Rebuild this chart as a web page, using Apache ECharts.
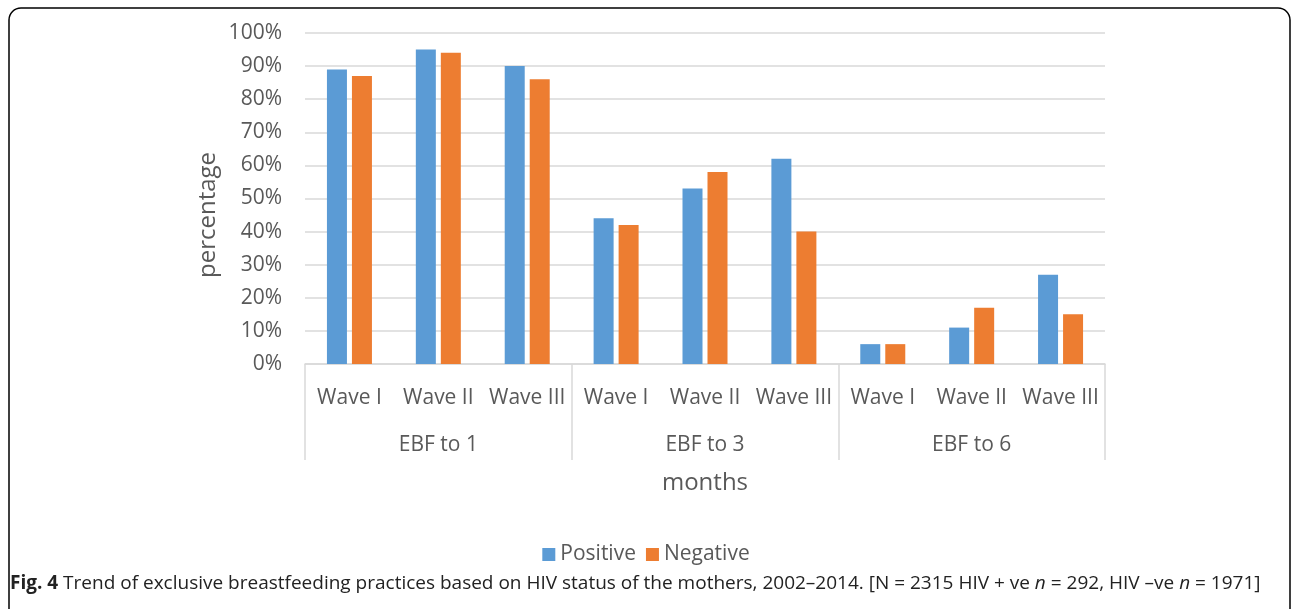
<!DOCTYPE html>
<html><head><meta charset="utf-8">
<script src="https://cdn.jsdelivr.net/npm/echarts@6/dist/echarts.min.js"></script>
<style>html,body{margin:0;padding:0;background:#fff}#c{width:1292px;height:609px}</style>
</head><body><div id="c"></div>
<script>
const waves = ['Wave I','Wave II','Wave III','Wave I','Wave II','Wave III','Wave I','Wave II','Wave III'];
const groups = ['EBF to 1','EBF to 3','EBF to 6'];
const positive = [89,95,90,44,53,62,6,11,27];
const negative = [87,94,86,42,58,40,6,17,15];
const yTicks = [0,10,20,30,40,50,60,70,80,90,100];

const FONT = '"Open Sans", sans-serif';
const GREY = '#595959';
const chart = echarts.init(document.getElementById('c'), null, {renderer:'canvas'});
chart.setOption({
  animation:false,
  textStyle:{fontFamily:FONT},
  grid:{left:305, right:187, top:33, bottom:245},
  legend:{
    data:['Positive','Negative'], top:539, left:'center',
    itemWidth:13, itemHeight:13, itemGap:10,
    icon:'rect',
    textStyle:{fontSize:21, color:GREY, fontFamily:FONT}
  },
  xAxis:[{
    type:'category', data:waves, position:'bottom',
    axisLine:{lineStyle:{color:'#d9d9d9', width:1.5}},
    axisTick:{show:false},
    axisLabel:{fontSize:21, color:GREY, margin:24, interval:0}
  },{
    type:'category', data:groups, position:'bottom',
    axisLine:{show:false},
    axisTick:{show:true, length:96, lineStyle:{color:'#d9d9d9', width:1.5}},
    axisLabel:{fontSize:21, color:GREY, margin:71},
    name:'months', nameLocation:'middle', nameGap:107,
    nameTextStyle:{fontSize:24, color:GREY, fontFamily:FONT}
  }],
  yAxis:{
    type:'value', min:0, max:100, interval:10,
    axisLabel:{fontSize:21, color:GREY, margin:23, formatter:v=> yTicks.includes(v)? v+'%' : ''},
    splitLine:{lineStyle:{color:'#d9d9d9', width:1.5}},
    axisLine:{show:false}, axisTick:{show:false}
  },
  series:[
    {name:'Positive', type:'bar', data:positive, barWidth:20, barGap:'25%',
     itemStyle:{color:'#5b9bd5'}},
    {name:'Negative', type:'bar', data:negative, barWidth:20, barGap:'25%',
     itemStyle:{color:'#ed7d31'}}
  ],
  graphic:[
    {type:'rect', shape:{x:9, y:8, width:1281, height:660, r:12},
     style:{fill:null, stroke:'#000', lineWidth:1.5}, silent:true},
    {type:'text', x:208, y:215, rotation:Math.PI/2,
     style:{text:'percentage', fontSize:24, fill:GREY, fontFamily:FONT, align:'center', verticalAlign:'middle'}},
    {type:'text', left:10, top:574,
     style:{
       text:'{b|Fig. 4} Trend of exclusive breastfeeding practices based on HIV status of the mothers, 2002–2014. [N = 2315 HIV + ve {i|n} = 292, HIV –ve {i|n} = 1971]',
       rich:{
         b:{fontWeight:'bold', fontSize:19, fill:'#222', fontFamily:FONT},
         i:{fontStyle:'italic', fontSize:19, fill:'#222', fontFamily:FONT}
       },
       fontSize:19, fill:'#222', fontFamily:FONT
     }}
  ]
});
</script>
</body></html>
